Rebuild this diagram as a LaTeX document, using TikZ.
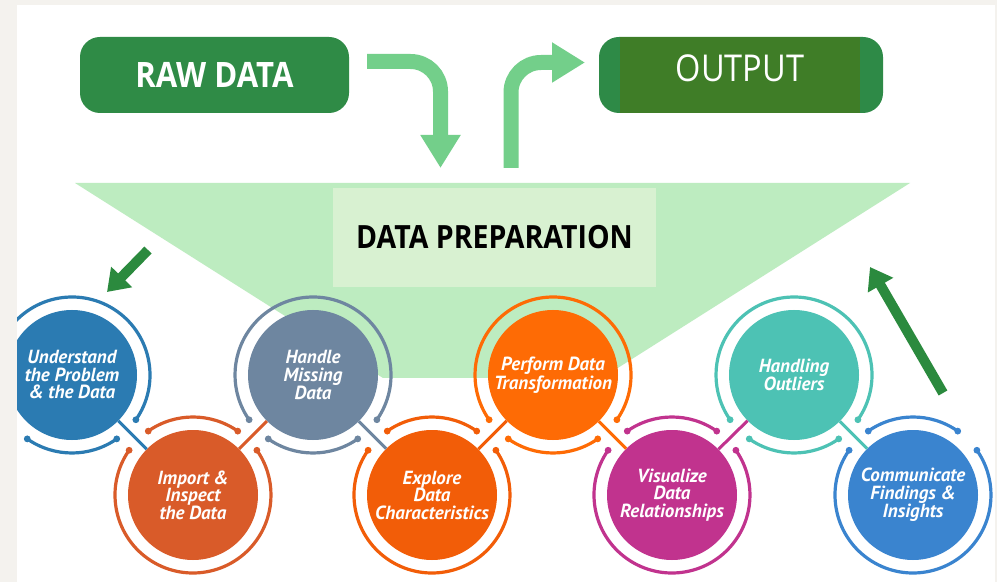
\documentclass[tikz,border=0pt]{standalone}
\usepackage{fontspec}
\newfontfamily\headfont{Open Sans}
\newfontfamily\circfont{PT Sans}
\usetikzlibrary{arrows.meta}
\definecolor{offwhite}{HTML}{F4F2EE}
\definecolor{rawgreen}{HTML}{2F8B46}
\definecolor{outmid}{HTML}{3F7D27}
\definecolor{outend}{HTML}{2E8A47}
\definecolor{lightarrow}{HTML}{73CF8A}
\definecolor{funnelc}{HTML}{BDECC0}
\definecolor{innerc}{HTML}{D8F1D1}
\definecolor{darkarrow}{HTML}{2B8A3E}
\definecolor{cU}{HTML}{2B7BB2}
\definecolor{cI}{HTML}{D95B29}
\definecolor{cH}{HTML}{6E86A0}
\definecolor{cE}{HTML}{F25D08}
\definecolor{cP}{HTML}{FE6B05}
\definecolor{cV}{HTML}{C1338E}
\definecolor{cO}{HTML}{4DC2B4}
\definecolor{cC}{HTML}{3A84CF}
\begin{document}
\begin{tikzpicture}[x=1pt,y=1pt,
  disk/.style={circle,minimum size=130pt,inner sep=0pt,align=center,text=white,
    font=\circfont\bfseries\itshape\fontsize{19}{17.5}\selectfont},
  conn/.style={line width=3pt},
  ringarc/.style={line width=3.2pt},
  headbox/.style={rounded corners=20pt,minimum width=269pt,minimum height=76pt,inner sep=0pt},
  bigarrow/.style={lightarrow,line width=15pt,rounded corners=30pt,-{Triangle[length=33pt,width=38pt]}},
  darkarr/.style={darkarrow,line width=10pt,-{Triangle[length=21pt,width=28pt]}}
]
\useasboundingbox (0,0) rectangle (997,582);
\fill[offwhite] (0,0) rectangle (997,582);
\fill[white] (17,0) rectangle (995,577);

% funnel
\fill[funnelc] (75,399) -- (910,399) -- (602,204) -- (383,204) -- cycle;
\node[fill=innerc,minimum width=323pt,minimum height=99pt,inner sep=0pt,
  font=\headfont\bfseries\fontsize{32}{32}\selectfont] (prep) at (494.5,344.5)
  {\scalebox{0.89}[1]{DATA PREPARATION}};

% top boxes
\node[headbox,fill=rawgreen,text=white,font=\headfont\bfseries\fontsize{35}{35}\selectfont]
  (raw) at (214.5,507) {\scalebox{0.89}[1]{RAW DATA}};
\node[headbox,minimum width=284pt,fill=outend,
  path picture={\fill[outmid,sharp corners] ([xshift=21pt]path picture bounding box.south west) rectangle ([xshift=-23pt]path picture bounding box.north east);}]
  (out) at (741,507) {};
\node[anchor=base,text=white,inner sep=0pt,font=\headfont\fontsize{37}{37}\selectfont]
  (outtxt) at (740,500) {\scalebox{0.88}[1]{OUTPUT}};

% curved arrows
\coordinate (a1s) at (367,520.5);
\coordinate (a1e) at (440.5,414);
\draw[bigarrow] (a1s) -- (a1s -| a1e) -- (a1e);
\coordinate (a2s) at (511,414);
\coordinate (a2e) at (585,519.5);
\draw[bigarrow] (a2s) -- (a2s |- a2e) -- (a2e);

% rings top row
\foreach \x/\c in {72/cU,313/cH,553/cP,794/cO}{
  \foreach \a/\b in {-35/215,-125/-55}{
    \draw[ringarc,\c] (\x,207) ++(\a:78) arc[start angle=\a,end angle=\b,radius=78];
    \fill[\c] (\x,207) ++(\a:78) circle (3.4);
    \fill[\c] (\x,207) ++(\b:78) circle (3.4);
  }
}
% rings bottom row
\foreach \x/\c in {193/cI,432/cE,672/cV,913/cC}{
  \foreach \a/\b in {145/395,55/125}{
    \draw[ringarc,\c] (\x,87) ++(\a:78) arc[start angle=\a,end angle=\b,radius=78];
    \fill[\c] (\x,87) ++(\a:78) circle (3.4);
    \fill[\c] (\x,87) ++(\b:78) circle (3.4);
  }
}

% disks
\node[disk,fill=cU] (n1) at (72,207) {Understand\\the Problem\\\& the Data};
\node[disk,fill=cI] (n2) at (193,87) {Import \&\\Inspect\\the Data};
\node[disk,fill=cH] (n3) at (313,207) {Handle\\Missing\\Data};
\node[disk,fill=cE] (n4) at (432,87) {Explore\\Data\\Characteristics};
\node[disk,fill=cP] (n5) at (553,207) {Perform Data\\Transformation};
\node[disk,fill=cV] (n6) at (672,87) {Visualize\\Data\\Relationships};
\node[disk,fill=cO] (n7) at (794,207) {Handling\\Outliers};
\node[disk,fill=cC] (n8) at (913,87) {Communicate\\Findings \&\\Insights};

% connectors
\draw[conn,cU] (n1) -- (n2);
\draw[conn,cI] (n2) -- (n3);
\draw[conn,cH] (n3) -- (n4);
\draw[conn,cE] (n4) -- (n5);
\draw[conn,cP] (n5) -- (n6);
\draw[conn,cV] (n6) -- (n7);
\draw[conn,cO] (n7) -- (n8);

% dark arrows
\coordinate (d1s) at (148,332);
\coordinate (d1e) at (107,290);
\draw[darkarr] (d1s) -- (d1e);
\coordinate (d2s) at (943,189);
\coordinate (d2e) at (870,315);
\draw[darkarr] (d2s) -- (d2e);

% margins
\fill[offwhite] (0,0) rectangle (17,582);
\fill[offwhite] (0,577) rectangle (997,582);
\fill[offwhite] (995,0) rectangle (997,582);
\end{tikzpicture}
\end{document}
